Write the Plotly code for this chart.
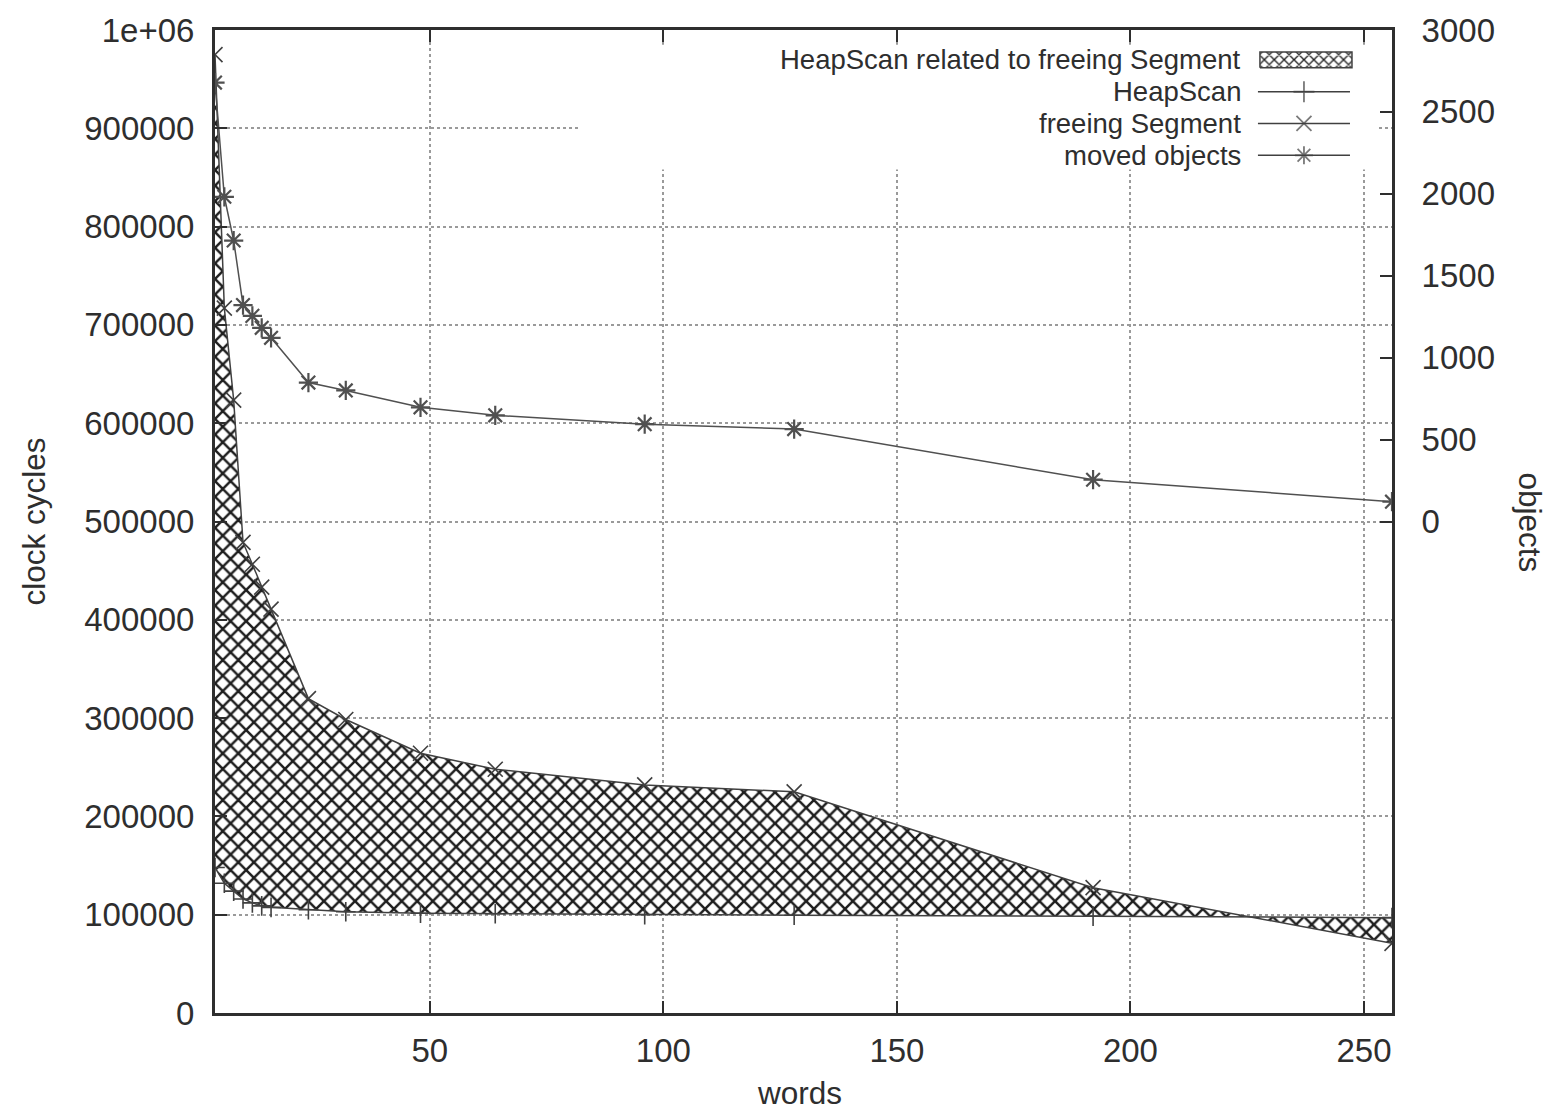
import plotly.graph_objects as go

# ---- data ----
words = [4, 6, 8, 10, 12, 14, 16, 24, 32, 48, 64, 96, 128, 192, 256]
heapscan = [148000, 132000, 124000, 116000, 112000, 109000, 107500, 105000,
            103000, 101500, 101000, 100000, 99500, 98500, 97000]
freeing_segment = [975000, 717000, 623500, 478700, 456500, 433200, 410900, 319800,
                   298600, 264200, 248000, 232000, 225000, 127500, 70900]
moved_objects = [2679, 1982, 1715, 1321, 1255, 1182, 1121, 848,
                 800, 697, 648, 594, 564, 255, 121]

x_ticks = [50, 100, 150, 200, 250]
y_ticks = [0, 100000, 200000, 300000, 400000, 500000, 600000, 700000, 800000, 900000, 1000000]
y_ticktext = ["0", "100000", "200000", "300000", "400000", "500000", "600000",
              "700000", "800000", "900000", "1e+06"]
y2_ticks = [0, 500, 1000, 1500, 2000, 2500, 3000]

legend_labels = ["HeapScan related to freeing Segment", "HeapScan",
                 "freeing Segment", "moved objects"]

FONT = "Liberation Sans, Arial, sans-serif"
INK = "#2e2e2e"
LINE = "#404040"
FS = 31.5
TFS = 33
LFS = 27.5

fig = go.Figure()

# HeapScan (lower boundary)
fig.add_trace(go.Scatter(
    x=words, y=heapscan, mode="lines+markers",
    line=dict(color=LINE, width=1.5),
    marker=dict(symbol="cross-thin-open", size=14, line=dict(color=LINE, width=1.6)),
    showlegend=False))

# freeing Segment (upper boundary) with crosshatched fill to HeapScan
fig.add_trace(go.Scatter(
    x=words, y=freeing_segment, mode="lines+markers",
    fill="tonexty",
    fillcolor="white",
    fillpattern=dict(shape="x", size=11, solidity=0.4, fgcolor="#1e1e1e",
                     bgcolor="white", fgopacity=1),
    line=dict(color=LINE, width=1.5),
    marker=dict(symbol="x-thin-open", size=15, line=dict(color=LINE, width=1.6)),
    showlegend=False))

# moved objects on the right axis
fig.add_trace(go.Scatter(
    x=words, y=moved_objects, mode="lines+markers", yaxis="y2",
    line=dict(color="#505050", width=1.5),
    marker=dict(symbol="asterisk-open", size=16, line=dict(color="#2a2a2a", width=2.2)),
    showlegend=False))

# ---- hand-drawn gnuplot-style key (symbols on the right of the text) ----
# opaque white key box (hides the grid like gnuplot's opaque key)
bx0, bx1, by0, by1 = 0.310, 0.988, 0.858, 0.985
fig.add_trace(go.Scatter(
    x=[bx0, bx1, bx1, bx0, bx0], y=[by0, by0, by1, by1, by0],
    xaxis="x3", yaxis="y3", mode="lines", fill="toself", fillcolor="white",
    line=dict(width=0, color="white"), showlegend=False, hoverinfo="skip"))

row_y = [0.9696, 0.9372, 0.9049, 0.8725]
text_right = 0.8726
samp_x0, samp_x1, samp_xc = 0.8861, 0.9643, 0.9252

# hatch sample
hx0, hx1, hy0, hy1 = 0.8878, 0.9660, 0.9615, 0.9777
fig.add_trace(go.Scatter(
    x=[hx0, hx1, hx1, hx0, hx0], y=[hy0, hy0, hy1, hy1, hy0],
    xaxis="x3", yaxis="y3", mode="lines", fill="toself", fillcolor="white",
    fillpattern=dict(shape="x", size=7, solidity=0.35, fgcolor="#222222",
                     bgcolor="white", fgopacity=1),
    line=dict(color=LINE, width=1.5), showlegend=False, hoverinfo="skip"))

symbols = ["cross-thin-open", "x-thin-open", "asterisk-open"]
for sym, yy in zip(symbols, row_y[1:]):
    fig.add_trace(go.Scatter(
        x=[samp_x0, samp_xc, samp_x1], y=[yy, yy, yy], xaxis="x3", yaxis="y3",
        mode="lines+markers", line=dict(color=LINE, width=1.5),
        marker=dict(symbol=sym, size=[0, 15, 0], line=dict(color=LINE, width=1.8)),
        showlegend=False, hoverinfo="skip"))

annotations = []
for lab, yy in zip(legend_labels, row_y):
    annotations.append(dict(text=lab, x=text_right, y=yy, xref="paper", yref="paper",
                            xanchor="right", yanchor="middle", showarrow=False,
                            borderpad=0,
                            font=dict(family=FONT, size=LFS, color=INK)))

annotations += [
    dict(text="clock cycles", x=-0.1546, y=0.5, xref="paper", yref="paper",
         textangle=-90, showarrow=False, xanchor="center", yanchor="middle",
         font=dict(family=FONT, size=FS, color=INK)),
    dict(text="objects", x=1.1172, y=0.499, xref="paper", yref="paper",
         textangle=90, showarrow=False, xanchor="center", yanchor="middle",
         font=dict(family=FONT, size=FS, color=INK)),
    dict(text="words", x=0.497, y=-0.081, xref="paper", yref="paper",
         showarrow=False, xanchor="center", yanchor="middle",
         font=dict(family=FONT, size=FS, color=INK)),
]

grid = dict(showgrid=True, gridcolor="#9a9a9a", griddash="dot", gridwidth=1.5)

fig.update_layout(
    width=1555, height=1111,
    margin=dict(l=215, r=163, t=25, b=98),
    paper_bgcolor="white", plot_bgcolor="white",
    font=dict(family=FONT, size=FS, color=INK),
    showlegend=False,
    xaxis=dict(range=[4, 256], tickvals=x_ticks, ticks="inside", ticklen=12,
               tickwidth=2, tickcolor=INK, showline=True, linecolor=INK, linewidth=3,
               mirror="ticks", zeroline=False, ticklabelstandoff=6,
               tickfont=dict(family=FONT, size=TFS, color=INK), **grid),
    yaxis=dict(range=[0, 1000000], tickvals=y_ticks, ticktext=y_ticktext,
               ticks="inside", ticklen=12, tickwidth=2, tickcolor=INK,
               showline=True, linecolor=INK, linewidth=3, mirror=True,
               zeroline=False, ticklabelstandoff=11,
               tickfont=dict(family=FONT, size=TFS, color=INK), **grid),
    yaxis2=dict(overlaying="y", side="right", range=[-3000, 3000], tickvals=y2_ticks,
                ticks="inside", ticklen=12, tickwidth=2, tickcolor=INK,
                showline=True, linecolor=INK, linewidth=3, showgrid=False,
                zeroline=False, ticklabelstandoff=20,
                tickfont=dict(family=FONT, size=TFS, color=INK)),
    xaxis3=dict(overlaying="x", range=[0, 1], visible=False, fixedrange=True),
    yaxis3=dict(overlaying="y", range=[0, 1], visible=False, fixedrange=True),
    annotations=annotations,
)

fig.write_html("out.html")
